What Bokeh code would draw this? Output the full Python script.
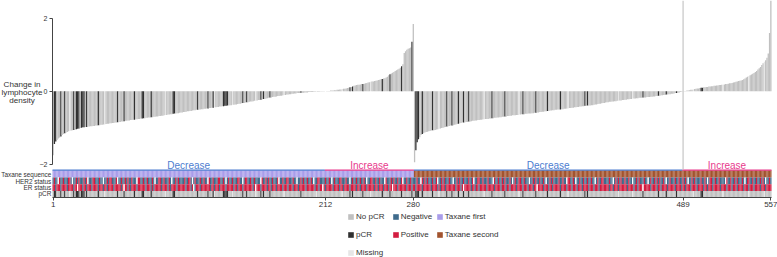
from bokeh.plotting import figure
from bokeh.models import (ColumnDataSource, Range1d, FixedTicker, Label, Legend, LegendItem,
                          LinearAxis)
from bokeh.embed import file_html
from bokeh.resources import INLINE

# ---------------- data ----------------
change_taxane_first = [
 -1.76, -1.45, -1.38, -1.34, -1.30, -1.27, -1.24, -1.20, -1.17, -1.15,
 -1.13, -1.12, -1.10, -1.09, -1.08, -1.07, -1.06, -1.05, -1.04, -1.03,
 -1.02, -1.01, -1.00, -0.99, -0.99, -0.98, -0.98, -0.97, -0.97, -0.96,
 -0.96, -0.95, -0.95, -0.94, -0.94, -0.93, -0.93, -0.92, -0.92, -0.91,
 -0.91, -0.90, -0.89, -0.89, -0.88, -0.88, -0.87, -0.87, -0.86, -0.86,
 -0.85, -0.84, -0.84, -0.83, -0.83, -0.82, -0.81, -0.81, -0.80, -0.80,
 -0.79, -0.79, -0.78, -0.78, -0.77, -0.77, -0.76, -0.76, -0.75, -0.75,
 -0.74, -0.74, -0.73, -0.73, -0.72, -0.72, -0.71, -0.71, -0.70, -0.70,
 -0.69, -0.69, -0.68, -0.68, -0.67, -0.67, -0.66, -0.65, -0.65, -0.64,
 -0.64, -0.63, -0.63, -0.62, -0.61, -0.61, -0.60, -0.60, -0.59, -0.58,
 -0.58, -0.57, -0.57, -0.56, -0.55, -0.55, -0.54, -0.54, -0.53, -0.52,
 -0.52, -0.51, -0.51, -0.50, -0.50, -0.49, -0.49, -0.48, -0.48, -0.47,
 -0.47, -0.46, -0.46, -0.45, -0.45, -0.44, -0.44, -0.43, -0.43, -0.42,
 -0.42, -0.41, -0.41, -0.40, -0.40, -0.39, -0.39, -0.38, -0.38, -0.37,
 -0.37, -0.36, -0.36, -0.35, -0.34, -0.34, -0.33, -0.32, -0.32, -0.31,
 -0.30, -0.30, -0.29, -0.28, -0.28, -0.27, -0.26, -0.26, -0.25, -0.24,
 -0.24, -0.23, -0.22, -0.21, -0.21, -0.20, -0.19, -0.18, -0.17, -0.17,
 -0.16, -0.15, -0.15, -0.14, -0.13, -0.13, -0.12, -0.12, -0.11, -0.10,
 -0.10, -0.09, -0.09, -0.08, -0.08, -0.07, -0.07, -0.06, -0.06, -0.05,
 -0.05, -0.05, -0.04, -0.04, -0.04, -0.03, -0.03, -0.03, -0.02, -0.02,
 -0.02, -0.02, -0.01, -0.01, -0.01, -0.01, -0.01, -0.005, -0.005, -0.005, -0.005,
 0.00, 0.01, 0.01, 0.01, 0.02, 0.02, 0.02, 0.03, 0.03, 0.04,
 0.04, 0.05, 0.05, 0.06, 0.07, 0.07, 0.08, 0.09, 0.10, 0.11,
 0.12, 0.13, 0.15, 0.16, 0.17, 0.18, 0.18, 0.19, 0.20, 0.20,
 0.21, 0.22, 0.23, 0.24, 0.25, 0.26, 0.27, 0.27, 0.28, 0.29,
 0.30, 0.31, 0.32, 0.33, 0.34, 0.35, 0.36, 0.38, 0.40, 0.44,
 0.47, 0.49, 0.51, 0.53, 0.56, 0.58, 0.60, 0.62, 0.65, 0.69,
 0.74, 1.05, 1.10, 1.14, 1.17, 1.18, 1.20, 1.36, 1.85,
]

change_taxane_second = [
 -1.95, -1.62, -1.40, -1.32, -1.26, -1.20, -1.17, -1.15, -1.13, -1.12,
 -1.11, -1.10, -1.09, -1.08, -1.07, -1.07, -1.06, -1.05, -1.04, -1.03,
 -1.02, -1.01, -1.00, -0.99, -0.98, -0.97, -0.96, -0.95, -0.94, -0.94,
 -0.93, -0.92, -0.91, -0.90, -0.89, -0.88, -0.87, -0.86, -0.86, -0.85,
 -0.84, -0.84, -0.83, -0.83, -0.82, -0.81, -0.81, -0.80, -0.80, -0.79,
 -0.79, -0.78, -0.78, -0.77, -0.77, -0.76, -0.76, -0.76, -0.75, -0.75,
 -0.74, -0.74, -0.73, -0.73, -0.72, -0.72, -0.71, -0.71, -0.70, -0.70,
 -0.69, -0.69, -0.68, -0.68, -0.67, -0.67, -0.66, -0.66, -0.66, -0.65,
 -0.65, -0.64, -0.64, -0.63, -0.63, -0.63, -0.62, -0.62, -0.61, -0.61,
 -0.61, -0.60, -0.60, -0.59, -0.59, -0.58, -0.58, -0.57, -0.57, -0.56,
 -0.56, -0.55, -0.55, -0.54, -0.54, -0.53, -0.53, -0.52, -0.52, -0.51,
 -0.51, -0.50, -0.50, -0.50, -0.49, -0.49, -0.48, -0.48, -0.47, -0.47,
 -0.46, -0.46, -0.45, -0.45, -0.44, -0.44, -0.43, -0.43, -0.42, -0.42,
 -0.41, -0.41, -0.40, -0.40, -0.39, -0.39, -0.39, -0.38, -0.38, -0.37,
 -0.36, -0.36, -0.35, -0.34, -0.34, -0.33, -0.32, -0.32, -0.31, -0.30,
 -0.30, -0.29, -0.29, -0.28, -0.28, -0.27, -0.27, -0.26, -0.26, -0.25,
 -0.25, -0.24, -0.24, -0.23, -0.23, -0.22, -0.22, -0.21, -0.21, -0.20,
 -0.20, -0.20, -0.19, -0.19, -0.18, -0.18, -0.18, -0.17, -0.17, -0.17,
 -0.16, -0.16, -0.16, -0.15, -0.15, -0.14, -0.14, -0.13, -0.13, -0.12,
 -0.12, -0.11, -0.11, -0.10, -0.10, -0.09, -0.09, -0.08, -0.08, -0.07,
 -0.07, -0.06, -0.05, -0.05, -0.04, -0.03, -0.02, -0.01,
 0.00, 0.01, 0.01, 0.02, 0.02, 0.03, 0.04, 0.04, 0.05, 0.06,
 0.07, 0.08, 0.08, 0.09, 0.10, 0.10, 0.11, 0.11, 0.12, 0.12,
 0.13, 0.13, 0.14, 0.14, 0.15, 0.15, 0.16, 0.16, 0.17, 0.17,
 0.18, 0.18, 0.19, 0.20, 0.20, 0.21, 0.22, 0.22, 0.23, 0.24,
 0.25, 0.26, 0.27, 0.28, 0.29, 0.30, 0.31, 0.33, 0.35, 0.38,
 0.40, 0.42, 0.44, 0.46, 0.48, 0.50, 0.53, 0.56, 0.60, 0.63,
 0.67, 0.72, 0.77, 0.81, 0.85, 0.92, 1.04, 1.60, 2.60,
]

# patients (1-based rank) with pCR, and with missing pCR information
pcr_patients = [2, 3, 7, 10, 17, 19, 20, 21, 23, 24, 25, 27, 36, 51, 56, 64, 70, 71, 77,
                94, 95, 113, 121, 125, 133, 134, 135, 136, 148, 151, 162, 164, 169, 193,
                231, 233, 241, 256, 262, 271, 279,
                282, 283, 284, 287, 295, 306, 310, 315, 319, 323, 341, 351, 365, 375,
                384, 394, 413, 415, 458, 470, 476, 484, 503, 504]
pcr_missing_patients = [14, 41, 88, 126, 140, 158, 180, 205, 225, 247, 300, 335, 362,
                        400, 439, 450, 497, 520, 540, 552]

# B = Negative, R = Positive, W = Missing
her2_status = (
 "BRBBWRBBRB BBRRBWBBRB RBBBRBRWBB BRRBBBRBBW BBRBRRBBBR WBBRBBRBRB BRBBBWRRBB "
 "RBBRBBBRBW BBRRBBRBBB RBWBBRBRBB BBRBBRRBWB RBBBRBBRBB WRBBRBBBRR BBRBWBRBBR "
 "BBBRRBBWBR RBBRBBRBBB BWRBBRBRBB RBBBRWBBRB BRRBBBRBBW BBRBRBBRBB RBWBBRRBBB "
 "BRBBRBWBRB BBRRBBBRBB WBRBBRBBRB BRBWBBRRBB RBBRBBBWRB BBRBRBBRBB RWBBRBBRBB "
 "BBRBBWRBRB RBBBRBBRWB BRBRBBBRBB WBBRBRBBRB BBRBBRWBBR RBBRBBBRBB BWRBBRBBRB "
 "RBBBRBWBRB BRRBBRBBBW BBRBRBBRBB RBWBBRBRBB BBRBBRBBWR RBBRBWBBRB BRBBRBBRBB "
 "WBRBBRRBBB BRBBWBRBRB RBBRBBRBBW BBRBRBBBRB BWBRBBRBRB RBBRBWBBRB BBRBBRBBRB "
 "RBWBBRBRBB BBRBBRBWBR RBBRBBRBBB BWRBBRBBRB RBBBRBWBRR BBRBBRBBRB RBWBBRB"
)
er_status = (
 "RRBRRRBRRR RBRRRRBRRW RRRBRRBRRR BRRRRBRRRB RRBRRRRBRR RRRBRWRRBR BRRRRBRRRR "
 "RRBRRRBRBR RRRRBRRRRB RBRRRRBRRR RRRBRRRBRW BRRRBRRRRR RRBRRBRRRB RRRRBRRRRR "
 "BRRBRRRBRR RRRRRBRWRR RBRRRRBRRB RRRBRRRRBR RRBRRRBRRR BRRRRRBRRR RRRBRRBRRW "
 "RBRRRRRBRR RRBRRBRRRR BRRRRBRRBR RRRBRRRRRB RRBRRRBRRR BRRWRRRBRR RRRRBRRRBR "
 "RBRRRRBRRR RRRBRRRRBR BRRRBRRRRR RRBRRRBRWR RRRRBRRBRR BRRRRRBRRR RRBRRRRBRR "
 "RBRRBRRRRB RRRRBRRRBR RRBRRWRRRR BRRRBRRBRR RRRBRRRRBR RRBRRRBRRR BRRRRBRRRB "
 "RRRBRRRRRR RBRRBRRRBR RRRRRBRRRR BRRBRRRWRR RRRBRRRRBR RBRRRRBRRR RRBRRRRBRR "
 "BRRRBRRRRB RRRRBRRBRR RBRRRRRBRR RRBRRRBRRR BRRRRBRRRB RRRBRRRRBR RRBRRRR"
)

taxane_groups = ["Taxane first", "Taxane second"]
x_tick_labels = [1, 212, 280, 489, 557]
direction_labels = ["Decrease", "Increase", "Decrease", "Increase"]
direction_bounds = [(1, 211), (212, 280), (281, 488), (489, 557)]
row_labels = ["Taxane sequence", "HER2 status", "ER status", "pCR"]
y_title = ["Change in", "lymphocyte", "density"]

# ---------------- styling ----------------
FONT = "Liberation Sans"
PCR_COLORS = {"No pCR": "#C0C0C0", "pCR": "#303030", "Missing": "#E6E6E6"}
STATUS_COLORS = {"Negative": "#3F6B8C", "Positive": "#D31C40", "Missing": "#FFFFFF"}
TAXANE_COLORS = {"Taxane first": "#A99DEA", "Taxane second": "#A2532E"}
DIR_COLORS = {"Decrease": "#4D7DD0", "Increase": "#E8398C"}
CODE = {"B": "Negative", "R": "Positive", "W": "Missing"}

W, H = 777, 257
PL, PR, PT, PB = 52, 771, 18, 197   # plotting area (pixels)
PXU = 36.4                           # pixels per unit of change

values = change_taxane_first + change_taxane_second
n = len(values)
XS = (PR - PL) / n


def ypx(px):
    return 2.0 - (px - PT) / PXU


def xpx(px):
    return 0.5 + (px - PL) / XS


idx = list(range(1, n + 1))
pcr = ["No pCR"] * n
for i in pcr_patients:
    pcr[i - 1] = "pCR"
for i in pcr_missing_patients:
    pcr[i - 1] = "Missing"
her2 = [CODE[c] for c in her2_status.replace(" ", "").ljust(n, "W")[:n]]
er = [CODE[c] for c in er_status.replace(" ", "").ljust(n, "W")[:n]]
taxane = [taxane_groups[0]] * len(change_taxane_first) + [taxane_groups[1]] * len(change_taxane_second)

# the frame spans the whole canvas; axes are pinned at fixed locations
p = figure(width=W, height=H, x_range=Range1d(xpx(0), xpx(W)), y_range=Range1d(ypx(H), ypx(0)),
           output_backend="svg", toolbar_location=None, title=None,
           x_axis_type=None, y_axis_type=None,
           min_border_left=0, min_border_right=0, min_border_top=0, min_border_bottom=0)
p.xgrid.visible = False
p.ygrid.visible = False
p.outline_line_color = None
p.background_fill_color = "white"
p.border_fill_color = "white"

# bars
bar_src = ColumnDataSource(dict(x=idx, top=values, color=[PCR_COLORS[c] for c in pcr]))
bar_r = p.vbar(x="x", top="top", bottom=0, width=1.0, fill_color="color", line_color=None, source=bar_src)

# annotation rows
rows = [
    (169.8, 177.0, [TAXANE_COLORS[t] for t in taxane]),
    (177.0, 183.8, [STATUS_COLORS[c] for c in her2]),
    (183.8, 190.4, [STATUS_COLORS[c] for c in er]),
    (190.4, 197.0, [PCR_COLORS[c] for c in pcr]),
]
row_r = []
for top_px, bot_px, cols in rows:
    src = ColumnDataSource(dict(left=[i - 0.5 for i in idx], right=[i + 0.5 for i in idx], color=cols))
    row_r.append(p.quad(left="left", right="right", top=ypx(top_px), bottom=ypx(bot_px),
                        fill_color="color", line_color=None, source=src))

# decrease / increase brackets
for lab, (a, b) in zip(direction_labels, direction_bounds):
    c = DIR_COLORS[lab]
    p.segment(x0=a - 0.5, y0=ypx(169.6), x1=b + 0.5, y1=ypx(169.6), line_color=c, line_width=1.2)
    p.add_layout(Label(x=(a + b) / 2, y=ypx(165.3), text=lab, text_color=c, text_font=FONT,
                       text_font_size="10px", text_align="center", text_baseline="middle"))

# separator line
p.segment(x0=489, y0=ypx(169), x1=489, y1=ypx(0), line_color="#BBBBBB", line_width=1)

# axes
yax = LinearAxis(fixed_location=0.5, ticker=FixedTicker(ticks=[-2, 0, 2]), bounds=(-2, 2))
yax.major_label_text_font_size = "7px"
yax.major_label_text_font = FONT
yax.major_label_text_color = "#333333"
yax.major_tick_out = 3
yax.major_tick_in = 0
yax.minor_tick_line_color = None
yax.axis_line_color = "#444444"
yax.major_tick_line_color = "#444444"
yax.major_label_standoff = 2
p.add_layout(yax, "left")

xax = LinearAxis(fixed_location=ypx(PB), ticker=FixedTicker(ticks=x_tick_labels), bounds=(0.5, n + 0.5))
xax.major_label_text_font_size = "8px"
xax.major_label_text_font = FONT
xax.major_label_text_color = "#333333"
xax.major_tick_out = 3
xax.major_tick_in = 0
xax.minor_tick_line_color = None
xax.axis_line_color = "#444444"
xax.major_tick_line_color = "#444444"
xax.major_label_standoff = 1
p.add_layout(xax, "below")

# y-axis title
for txt, cy in zip(y_title, [83.5, 91.5, 99.5]):
    p.add_layout(Label(x=xpx(21.5), y=ypx(cy), text=txt, text_font=FONT, text_font_size="8.1px",
                       text_color="#333333", text_align="center", text_baseline="middle"))

# row labels
for txt, cy in zip(row_labels, [174.4, 180.5, 186.7, 193.0]):
    p.add_layout(Label(x=xpx(50.8), y=ypx(cy), text=txt, text_font=FONT, text_font_size="6.4px",
                       text_color="#333333", text_align="right", text_baseline="middle"))

# legends (swatches taken from the drawn renderers)
legend_cols = [
    (347.0, bar_r, pcr, ["No pCR", "pCR", "Missing"]),
    (391.7, row_r[1], her2, ["Negative", "Positive"]),
    (435.7, row_r[0], taxane, taxane_groups),
]
for left_px, rend, cats, labels in legend_cols:
    items = [LegendItem(label=lab, renderers=[rend], index=cats.index(lab)) for lab in labels]
    k = len(items)
    height = k * 10 + (k - 1) * 8
    bottom_px = 211.7 + height
    leg = Legend(items=items, location=(left_px, H - bottom_px), orientation="vertical",
                 glyph_width=7, glyph_height=7, label_height=10, spacing=8, padding=0, margin=0,
                 label_standoff=2, border_line_color=None, background_fill_alpha=0,
                 label_text_font_size="8px", label_text_font=FONT, label_text_color="#333333")
    p.add_layout(leg)

open("out.html", "w").write(file_html(p, INLINE))
